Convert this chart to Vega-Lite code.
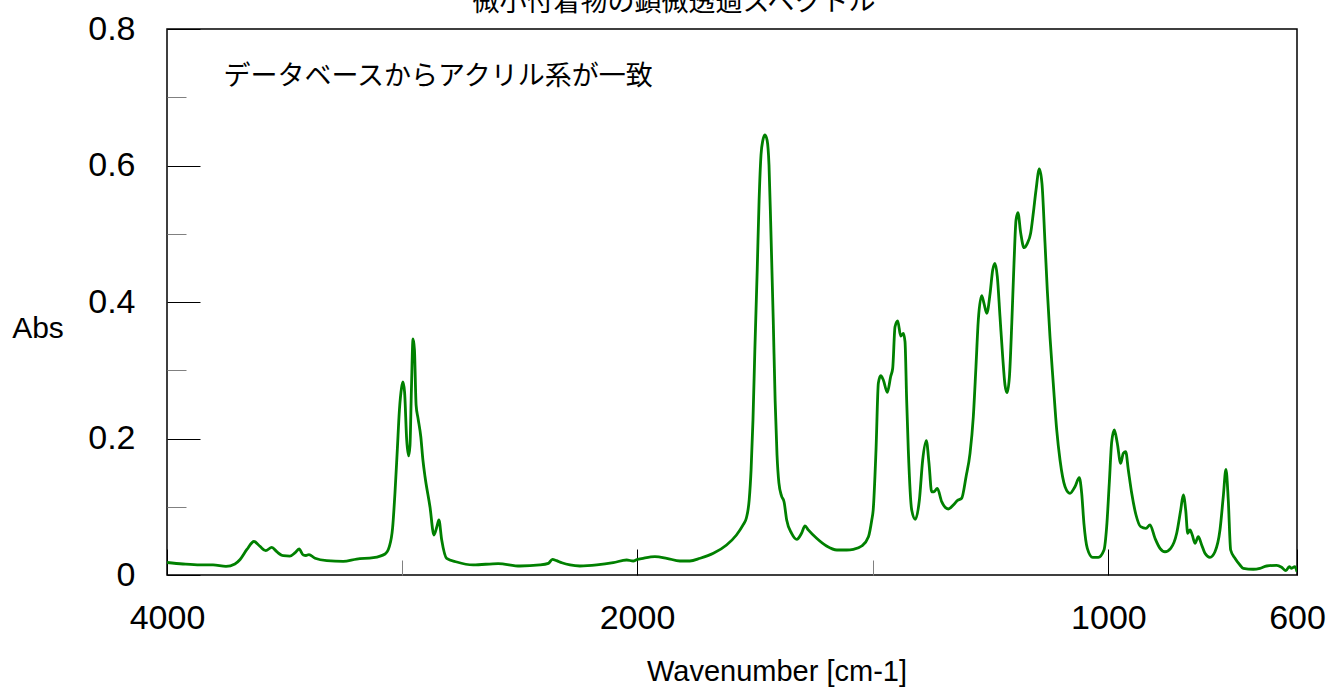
{
  "$schema": "https://vega.github.io/schema/vega-lite/v6.json",
  "width": 1130,
  "height": 546,
  "autosize": {"type": "none"},
  "padding": {"left": 167, "top": 29, "right": 31, "bottom": 112},
  "background": "white",
  "config": {
    "view": {"stroke": "#000", "strokeWidth": 1.5},
    "axis": {"grid": false, "domain": false, "labelFont": "Liberation Sans", "labelFontSize": 34, "labelColor": "#000", "titleColor": "#000"}
  },
  "title": {
    "text": "微小付着物の顕微透過スペクトル",
    "font": "Noto Sans CJK JP",
    "fontSize": 27,
    "fontWeight": "normal",
    "color": "#000",
    "anchor": "middle",
    "frame": "group",
    "baseline": "alphabetic",
    "offset": 0,
    "dx": -58,
    "dy": 26
  },
  "resolve": {"axis": {"x": "independent", "y": "independent"}},
  "layer": [
    {
      "data": {"values": [
        {"wn": 4000, "abs": 0.0183}, {"wn": 3932, "abs": 0.0161}, {"wn": 3860, "abs": 0.0147},
        {"wn": 3804, "abs": 0.0147}, {"wn": 3749, "abs": 0.0125}, {"wn": 3711, "abs": 0.0161},
        {"wn": 3689, "abs": 0.0227}, {"wn": 3660, "abs": 0.0374}, {"wn": 3630, "abs": 0.0491},
        {"wn": 3604, "abs": 0.0418}, {"wn": 3580, "abs": 0.0356}, {"wn": 3554, "abs": 0.0406},
        {"wn": 3533, "abs": 0.0341}, {"wn": 3505, "abs": 0.0283}, {"wn": 3477, "abs": 0.0278},
        {"wn": 3455, "abs": 0.0327}, {"wn": 3438, "abs": 0.0381}, {"wn": 3420, "abs": 0.0293},
        {"wn": 3409, "abs": 0.0286}, {"wn": 3396, "abs": 0.0300}, {"wn": 3370, "abs": 0.0245},
        {"wn": 3320, "abs": 0.0210}, {"wn": 3250, "abs": 0.0201}, {"wn": 3193, "abs": 0.0234},
        {"wn": 3122, "abs": 0.0253}, {"wn": 3072, "abs": 0.0308}, {"wn": 3054, "abs": 0.0415},
        {"wn": 3040, "abs": 0.0689}, {"wn": 3030, "abs": 0.1197}, {"wn": 3020, "abs": 0.1832},
        {"wn": 3011, "abs": 0.2418}, {"wn": 3002, "abs": 0.274}, {"wn": 2996, "abs": 0.2828},
        {"wn": 2989, "abs": 0.268}, {"wn": 2980, "abs": 0.1978}, {"wn": 2972, "abs": 0.1744},
        {"wn": 2966, "abs": 0.190}, {"wn": 2960, "abs": 0.271}, {"wn": 2953, "abs": 0.3458},
        {"wn": 2947, "abs": 0.330}, {"wn": 2940, "abs": 0.249}, {"wn": 2932, "abs": 0.230},
        {"wn": 2920, "abs": 0.2026}, {"wn": 2911, "abs": 0.1685}, {"wn": 2902, "abs": 0.144},
        {"wn": 2881, "abs": 0.100}, {"wn": 2864, "abs": 0.0586}, {"wn": 2852, "abs": 0.0703},
        {"wn": 2843, "abs": 0.0806}, {"wn": 2831, "abs": 0.0513}, {"wn": 2810, "abs": 0.0245},
        {"wn": 2767, "abs": 0.019}, {"wn": 2697, "abs": 0.0147}, {"wn": 2591, "abs": 0.0168},
        {"wn": 2498, "abs": 0.0132}, {"wn": 2413, "abs": 0.0147}, {"wn": 2377, "abs": 0.0171},
        {"wn": 2360, "abs": 0.0230}, {"wn": 2342, "abs": 0.0210}, {"wn": 2320, "abs": 0.018},
        {"wn": 2285, "abs": 0.0147}, {"wn": 2243, "abs": 0.0132}, {"wn": 2171, "abs": 0.0147},
        {"wn": 2101, "abs": 0.018}, {"wn": 2044, "abs": 0.022}, {"wn": 2016, "abs": 0.0205},
        {"wn": 2000, "abs": 0.0227}, {"wn": 1987, "abs": 0.0245}, {"wn": 1962, "abs": 0.0268},
        {"wn": 1937, "abs": 0.0245}, {"wn": 1909, "abs": 0.0205}, {"wn": 1888, "abs": 0.0205},
        {"wn": 1866, "abs": 0.0245}, {"wn": 1838, "abs": 0.0318}, {"wn": 1810, "abs": 0.044},
        {"wn": 1789, "abs": 0.0586}, {"wn": 1775, "abs": 0.0733}, {"wn": 1768, "abs": 0.0835},
        {"wn": 1762, "abs": 0.110}, {"wn": 1758, "abs": 0.154}, {"wn": 1754, "abs": 0.227},
        {"wn": 1750, "abs": 0.330}, {"wn": 1745, "abs": 0.447}, {"wn": 1741, "abs": 0.549},
        {"wn": 1737, "abs": 0.615}, {"wn": 1733, "abs": 0.637}, {"wn": 1728.5, "abs": 0.645},
        {"wn": 1724, "abs": 0.637}, {"wn": 1720, "abs": 0.601}, {"wn": 1716, "abs": 0.505},
        {"wn": 1711, "abs": 0.374}, {"wn": 1707, "abs": 0.256}, {"wn": 1703, "abs": 0.176},
        {"wn": 1699, "abs": 0.135}, {"wn": 1693.5, "abs": 0.116}, {"wn": 1688, "abs": 0.107},
        {"wn": 1682.5, "abs": 0.0806}, {"wn": 1672, "abs": 0.0611}, {"wn": 1661, "abs": 0.0523},
        {"wn": 1651, "abs": 0.0611}, {"wn": 1643.6, "abs": 0.0718}, {"wn": 1636.7, "abs": 0.066},
        {"wn": 1619, "abs": 0.0538}, {"wn": 1598, "abs": 0.0425}, {"wn": 1576, "abs": 0.0366},
        {"wn": 1555, "abs": 0.0366}, {"wn": 1541, "abs": 0.0377}, {"wn": 1523.4, "abs": 0.0425},
        {"wn": 1509, "abs": 0.0561}, {"wn": 1502, "abs": 0.0806}, {"wn": 1499, "abs": 0.0952},
        {"wn": 1493, "abs": 0.1832}, {"wn": 1488, "abs": 0.2813}, {"wn": 1483, "abs": 0.292},
        {"wn": 1477.5, "abs": 0.2857}, {"wn": 1469, "abs": 0.2677}, {"wn": 1462, "abs": 0.2905},
        {"wn": 1457.6, "abs": 0.3029}, {"wn": 1452.7, "abs": 0.3638}, {"wn": 1447, "abs": 0.3722},
        {"wn": 1440.6, "abs": 0.3502}, {"wn": 1435, "abs": 0.3541}, {"wn": 1431.5, "abs": 0.3418},
        {"wn": 1428, "abs": 0.2564}, {"wn": 1424.5, "abs": 0.1832}, {"wn": 1417.3, "abs": 0.0952},
        {"wn": 1409.7, "abs": 0.0816}, {"wn": 1401, "abs": 0.1099}, {"wn": 1394, "abs": 0.1685},
        {"wn": 1386.3, "abs": 0.1968}, {"wn": 1380.6, "abs": 0.1637}, {"wn": 1375, "abs": 0.122},
        {"wn": 1370, "abs": 0.122}, {"wn": 1363, "abs": 0.127}, {"wn": 1353.7, "abs": 0.1074},
        {"wn": 1339.7, "abs": 0.0967}, {"wn": 1329, "abs": 0.1026}, {"wn": 1320.6, "abs": 0.1089},
        {"wn": 1311.3, "abs": 0.1124}, {"wn": 1302, "abs": 0.144}, {"wn": 1293.6, "abs": 0.1783},
        {"wn": 1286.6, "abs": 0.2319}, {"wn": 1281, "abs": 0.3052}, {"wn": 1276, "abs": 0.3736},
        {"wn": 1268.8, "abs": 0.4092}, {"wn": 1264, "abs": 0.3981}, {"wn": 1258, "abs": 0.3834},
        {"wn": 1251, "abs": 0.4127}, {"wn": 1245.5, "abs": 0.4469}, {"wn": 1240.6, "abs": 0.4567},
        {"wn": 1235.7, "abs": 0.4371}, {"wn": 1230, "abs": 0.3785}, {"wn": 1224.3, "abs": 0.3198},
        {"wn": 1219.4, "abs": 0.2784}, {"wn": 1215, "abs": 0.2671}, {"wn": 1210, "abs": 0.2906},
        {"wn": 1205, "abs": 0.3688}, {"wn": 1200.3, "abs": 0.4567}, {"wn": 1196, "abs": 0.5201},
        {"wn": 1192, "abs": 0.5308}, {"wn": 1186, "abs": 0.5007}, {"wn": 1179, "abs": 0.4796},
        {"wn": 1172, "abs": 0.486}, {"wn": 1165, "abs": 0.5007}, {"wn": 1159.4, "abs": 0.53},
        {"wn": 1153.6, "abs": 0.5641}, {"wn": 1146.6, "abs": 0.5949}, {"wn": 1141, "abs": 0.5739},
        {"wn": 1134.5, "abs": 0.486}, {"wn": 1129.7, "abs": 0.4176}, {"wn": 1124, "abs": 0.3492},
        {"wn": 1117, "abs": 0.2809}, {"wn": 1109.7, "abs": 0.2125}, {"wn": 1102.7, "abs": 0.1685},
        {"wn": 1092, "abs": 0.1294}, {"wn": 1081.5, "abs": 0.1197}, {"wn": 1071, "abs": 0.1294},
        {"wn": 1061.8, "abs": 0.1426}, {"wn": 1056.7, "abs": 0.1197}, {"wn": 1052, "abs": 0.0758},
        {"wn": 1044.8, "abs": 0.0391}, {"wn": 1033.4, "abs": 0.0259}, {"wn": 1021.5, "abs": 0.0259},
        {"wn": 1009.4, "abs": 0.0366}, {"wn": 1003.7, "abs": 0.0708}, {"wn": 998.2, "abs": 0.1344},
        {"wn": 993, "abs": 0.1953}, {"wn": 987.5, "abs": 0.2125}, {"wn": 981.2, "abs": 0.193},
        {"wn": 974, "abs": 0.1637}, {"wn": 968.5, "abs": 0.1783}, {"wn": 963.4, "abs": 0.1807},
        {"wn": 957.8, "abs": 0.1538}, {"wn": 950.6, "abs": 0.1197}, {"wn": 941.5, "abs": 0.0879},
        {"wn": 931.6, "abs": 0.0708}, {"wn": 920.3, "abs": 0.0684}, {"wn": 911.8, "abs": 0.0733},
        {"wn": 901.2, "abs": 0.0538}, {"wn": 890.6, "abs": 0.0391}, {"wn": 880, "abs": 0.0341},
        {"wn": 867.9, "abs": 0.0391}, {"wn": 855.2, "abs": 0.0611}, {"wn": 846.7, "abs": 0.0952},
        {"wn": 841.2, "abs": 0.1172}, {"wn": 836.1, "abs": 0.0952}, {"wn": 831.8, "abs": 0.0611},
        {"wn": 827, "abs": 0.0659}, {"wn": 822.1, "abs": 0.0586}, {"wn": 816.4, "abs": 0.0464},
        {"wn": 809.4, "abs": 0.0561}, {"wn": 802.2, "abs": 0.044}, {"wn": 795.2, "abs": 0.0318},
        {"wn": 784.6, "abs": 0.0259}, {"wn": 774, "abs": 0.0341}, {"wn": 763.4, "abs": 0.0659},
        {"wn": 756.4, "abs": 0.1147}, {"wn": 750.7, "abs": 0.1549}, {"wn": 745.8, "abs": 0.1099},
        {"wn": 740.7, "abs": 0.0366}, {"wn": 731.6, "abs": 0.0245}, {"wn": 721, "abs": 0.0147},
        {"wn": 714, "abs": 0.0098}, {"wn": 692.8, "abs": 0.0084}, {"wn": 678.6, "abs": 0.0098},
        {"wn": 664.4, "abs": 0.0132}, {"wn": 643.2, "abs": 0.0142}, {"wn": 632.6, "abs": 0.0113},
        {"wn": 623.5, "abs": 0.0063}, {"wn": 616.5, "abs": 0.0122}, {"wn": 611.4, "abs": 0.0098},
        {"wn": 604.4, "abs": 0.0122}, {"wn": 600, "abs": 0.0048}
      ]},
      "mark": {"type": "line", "color": "#008000", "strokeWidth": 2.8, "interpolate": "monotone", "clip": true},
      "encoding": {
        "x": {
          "field": "wn", "type": "quantitative",
          "scale": {"domain": [4000, 2000, 600], "range": [0, 470, 1130], "nice": false, "zero": false},
          "axis": {
            "orient": "bottom", "values": [4000, 2000, 1000, 600], "format": "d",
            "tickSize": -26, "tickColor": "#000", "tickWidth": 1,
            "labelPadding": 79, "labelBaseline": "alphabetic", "labelFlush": false, "labelOverlap": false, "labelBound": false,
            "title": "Wavenumber [cm-1]", "titleFont": "Liberation Sans", "titleFontSize": 29, "titleFontWeight": "normal",
            "titleX": 609.5, "titleY": 105, "titleAlign": "center", "titleBaseline": "alphabetic"
          }
        },
        "y": {
          "field": "abs", "type": "quantitative",
          "scale": {"domain": [0, 0.8], "nice": false, "zero": false},
          "axis": {
            "orient": "left", "values": [0, 0.2, 0.4, 0.6, 0.8], "format": "~g",
            "tickSize": -33, "tickColor": "#000", "tickWidth": 1,
            "labelPadding": 65, "labelAlign": "right", "labelBaseline": "middle", "labelFlush": false, "labelOverlap": false, "labelBound": false,
            "title": "Abs", "titleFont": "Liberation Sans", "titleFontSize": 30, "titleFontWeight": "normal",
            "titleAngle": 0, "titleX": -129.5, "titleY": 308, "titleAlign": "center", "titleBaseline": "alphabetic"
          }
        },
        "order": {"field": "wn", "sort": "descending"}
      }
    },
    {
      "data": {"values": [{"note": "データベースからアクリル系が一致"}]},
      "mark": {"type": "text", "font": "Noto Sans CJK JP", "fontSize": 27, "align": "left", "baseline": "middle", "color": "#000"},
      "encoding": {
        "text": {"field": "note"},
        "x": {
          "datum": 3760, "type": "quantitative",
          "scale": {"domain": [4000, 2000, 600], "range": [0, 470, 1130], "nice": false, "zero": false},
          "axis": {"orient": "bottom", "values": [3000, 1500], "tickSize": -15, "tickColor": "#808080", "tickWidth": 1, "labels": false, "title": null}
        },
        "y": {
          "datum": 0.729, "type": "quantitative",
          "scale": {"domain": [0, 0.8], "nice": false, "zero": false},
          "axis": {"orient": "left", "values": [0.1, 0.3, 0.5, 0.7], "tickSize": -19, "tickColor": "#808080", "tickWidth": 1, "labels": false, "title": null}
        }
      }
    }
  ]
}
